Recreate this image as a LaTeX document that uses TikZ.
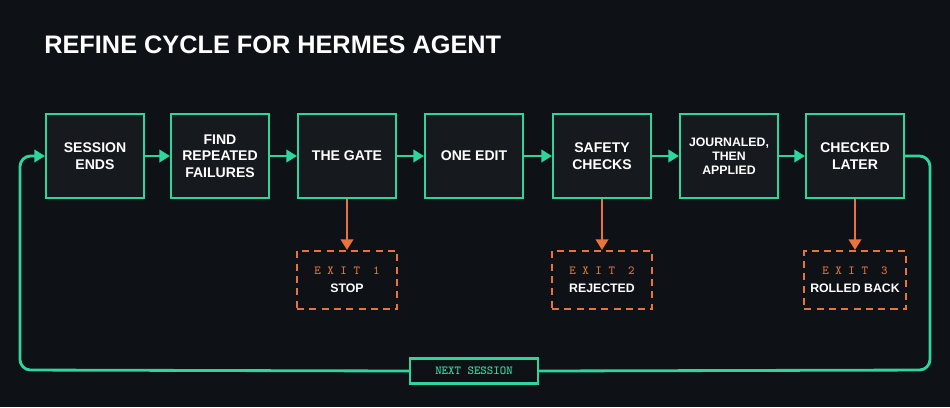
\documentclass[tikz,border=0pt]{standalone}
\usepackage{fontspec}
\setmainfont{Liberation Sans}
\usetikzlibrary{arrows.meta, positioning}
\definecolor{bgc}{HTML}{0E1116}
\definecolor{boxc}{HTML}{161A1F}
\definecolor{grn}{HTML}{2FD69C}
\definecolor{org}{HTML}{E8743B}

\begin{document}
\begin{tikzpicture}[x=0.02cm, y=-0.02cm]
      \tikzset{stage/.style = {shape=rectangle, draw=grn, line width=1.2pt, fill=boxc,
          minimum width=1.96cm, minimum height=1.68cm, align=center, text=white,
          font=\bfseries\footnotesize}}
      \tikzset{exitbox/.style = {shape=rectangle, draw=org, line width=1.2pt,
          dash pattern=on 4pt off 3pt, fill=bgc, minimum width=2cm, minimum height=1.16cm,
          align=center, text=white, font=\bfseries\scriptsize}}
      \tikzset{flow/.style = {draw=grn, line width=1.6pt, -{Triangle[length=6pt,width=7pt]}}}
      \tikzset{bail/.style = {draw=org, line width=1.6pt, -{Triangle[length=6pt,width=7pt]}}}
      \fill[bgc] (0,0) rectangle (950,407);
      \node[anchor=west, text=white, font=\bfseries\Large, inner sep=0pt] (title) at (44,45) {REFINE CYCLE FOR HERMES AGENT};

      \node[stage] (ends) at (95,156) {SESSION\\ENDS};
      \node[stage] (find) at (220,156) {FIND\\REPEATED\\FAILURES};
      \node[stage] (gate) at (347,156) {THE GATE};
      \node[stage] (edit) at (474,156) {ONE EDIT};
      \node[stage] (safe) at (602,156) {SAFETY\\CHECKS};
      \node[stage, font=\bfseries\scriptsize] (jour) at (729,156) {JOURNALED,\\THEN\\APPLIED};
      \node[stage] (late) at (855,156) {CHECKED\\LATER};

      \node[exitbox] (stop) at (347,280) {{\color{org}\mdseries\ttfamily\scriptsize E X I T\ \ 1}\\[2pt]STOP};
      \node[exitbox] (rej) at (602,280) {{\color{org}\mdseries\ttfamily\scriptsize E X I T\ \ 2}\\[2pt]REJECTED};
      \node[exitbox] (roll) at (855,280) {{\color{org}\mdseries\ttfamily\scriptsize E X I T\ \ 3}\\[2pt]ROLLED BACK};

      \draw[flow] (ends) -- (find);
      \draw[flow] (find) -- (gate);
      \draw[flow] (gate) -- (edit);
      \draw[flow] (edit) -- (safe);
      \draw[flow] (safe) -- (jour);
      \draw[flow] (jour) -- (late);

      \draw[bail] (gate) -- (stop);
      \draw[bail] (safe) -- (rej);
      \draw[bail] (late) -- (roll);

      % loop back to the start
      \node[draw=grn, line width=1.2pt, fill=bgc, text=grn, font=\ttfamily\bfseries\scriptsize,
          minimum width=2.56cm, minimum height=0.5cm] (next) at (474,371) {NEXT SESSION};
      \coordinate (r1) at (930,156);
      \coordinate (r2) at (930,370);
      \coordinate (l1) at (20,370);
      \coordinate (l2) at (20,156);
      \draw[draw=grn, line width=1.6pt, rounded corners=6pt] (late.east) -- (r1) -- (r2) -- (next.east);
      \draw[flow, rounded corners=6pt] (next.west) -- (l1) -- (l2) -- (ends.west);
\end{tikzpicture}
\end{document}
